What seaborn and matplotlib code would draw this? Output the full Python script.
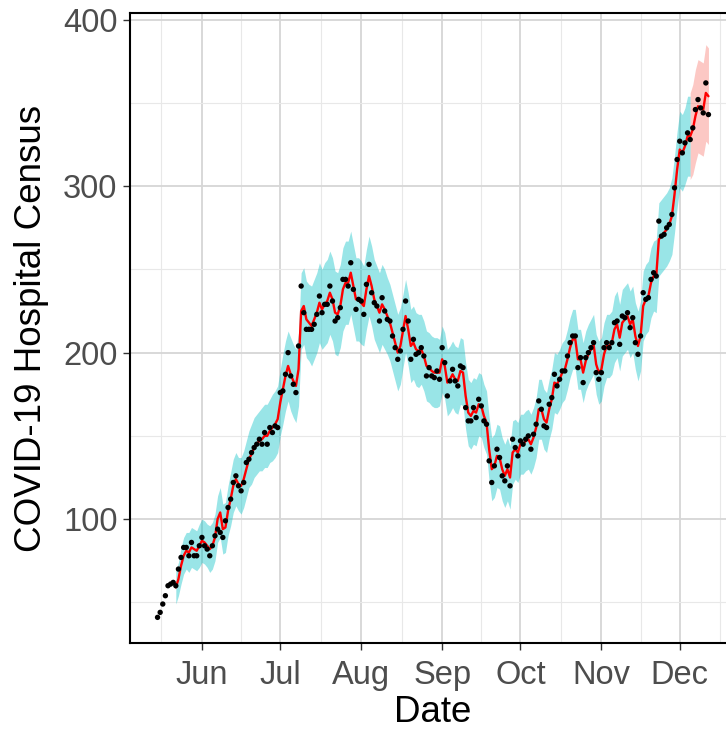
import numpy as np
import pandas as pd
import matplotlib
matplotlib.use("Agg")
import matplotlib.pyplot as plt
import matplotlib.dates as mdates
import seaborn as sns

# ---------------- data ----------------
start_date = "2020-05-15"

observed = [
    41, 44, 49, 54, 60, 61, 62, 60, 70, 77, 83, 83, 78, 86, 78, 78, 84, 89, 84, 82,
    78, 84, 90, 94, 92, 89, 99, 107, 112, 122, 126, 120, 117, 122, 134, 136, 140, 143, 145, 148,
    145, 152, 145, 155, 152, 156, 155, 176, 177, 187, 200, 186, 181, 176, 204, 240, 224, 214, 214, 214,
    217, 223, 234, 224, 229, 229, 240, 231, 219, 221, 227, 244, 244, 240, 254, 238, 226, 232, 231, 223,
    241, 253, 236, 230, 228, 219, 233, 225, 220, 219, 210, 203, 196, 201, 214, 231, 219, 196, 208, 199,
    200, 203, 198, 186, 191, 186, 185, 189, 184, 203, 194, 174, 183, 190, 183, 180, 192, 191, 167, 159,
    159, 167, 161, 172, 168, 159, 157, 135, 122, 132, 142, 137, 126, 123, 132, 120, 148, 143, 138, 147,
    145, 148, 150, 142, 151, 157, 171, 166, 156, 155, 169, 173, 187, 180, 184, 189, 189, 198, 206, 210,
    210, 191, 197, 182, 197, 200, 203, 206, 188, 184, 188, 203, 206, 203, 206, 218, 219, 205, 222, 221,
    224, 215, 221, 206, 199, 210, 236, 232, 233, 244, 248, 246, 279, 270, 271, 275, 277, 283, 299, 316,
    327, 320, 326, 332, 328, 335, 346, 352, 347, 344, 362, 343,
]

fit_offset = 7  # fitted series starts one week after the first observation
fitted = [
    59, 64, 72, 78, 81, 80, 83, 82, 81, 84, 87, 86, 84, 82, 84, 89, 100, 104, 94, 95,
    105, 112, 120, 124, 121, 120, 124, 130, 136, 139, 143, 145, 147, 148, 150, 150, 153, 155, 157, 160,
    170, 178, 186, 192, 187, 183, 180, 190, 225, 228, 220, 218, 216, 220, 224, 230, 226, 229, 231, 236,
    232, 224, 223, 228, 238, 242, 242, 248, 240, 232, 232, 230, 228, 238, 246, 240, 232, 228, 224, 229,
    226, 222, 218, 212, 206, 200, 204, 213, 222, 214, 204, 206, 202, 201, 202, 198, 192, 191, 189, 188,
    188, 188, 196, 192, 182, 184, 187, 184, 183, 189, 188, 174, 164, 162, 165, 164, 169, 168, 162, 158,
    142, 130, 132, 138, 137, 130, 126, 130, 125, 140, 142, 140, 145, 145, 147, 148, 145, 149, 155, 166,
    166, 160, 158, 166, 172, 182, 181, 184, 188, 190, 196, 203, 208, 208, 196, 196, 188, 195, 199, 202,
    205, 193, 188, 190, 199, 204, 204, 206, 214, 217, 209, 218, 220, 222, 217, 220, 210, 204, 210, 228,
    232, 234, 242, 246, 246, 268, 270, 272, 274, 277, 282, 295, 310, 322, 320, 324, 330, 330, 334, 342,
    348, 347, 346, 356, 354,
]

# half-width of the fitted interval (cyan), days 7..204
fit_halfwidth = [
    10, 10, 11, 11, 11, 12, 12, 12, 12, 13,
    13, 13, 13, 14, 14, 14, 14, 15, 15, 15, 15, 16, 16, 16,
    16, 17, 17, 17, 17, 18, 18, 18, 18, 19, 19, 19, 19, 20, 20, 20,
    20, 21, 21, 21, 22, 22, 22, 22, 23, 23, 23, 23, 24, 24,
    24, 24, 24, 25, 25, 25, 25, 25, 25, 25, 25, 25, 25, 25, 25, 25, 25, 25, 24, 24, 24, 24, 24, 24, 24, 24, 24, 23, 23, 23,
    23, 23, 23, 22, 22, 22, 22, 22, 22, 22, 21, 21, 21, 21, 21, 21, 21, 20, 20, 20, 20, 20, 20, 20, 20, 20, 20, 20, 20, 20,
    20, 20, 19, 19, 19, 19, 19, 19, 19, 19, 19, 19, 19, 19, 19, 19, 18, 18, 18, 18, 18, 18, 18, 18, 18, 18, 18, 18, 18, 18,
    18, 18, 18, 18, 18, 18, 18, 18, 18, 18, 18, 18, 18, 18, 18, 18, 18, 18, 19, 19, 19, 19, 19, 19, 20, 20, 20, 20, 20, 20,
    20, 20, 20, 21, 21, 21, 21, 21, 21, 21, 22, 22, 22, 22, 22, 22, 23, 23, 23, 23, 23, 23, 24, 24,
]

# forecast interval (pink), days 204..211
forecast_offset = 204
forecast_halfwidth = [26, 27, 28, 28, 28, 28, 29, 29]

y_ticks = [100, 200, 300, 400]
y_minor = [50, 150, 250, 350]
month_labels = ["Jun", "Jul", "Aug", "Sep", "Oct", "Nov", "Dec"]

# ---------------- tables ----------------
dates = pd.date_range(start_date, periods=len(observed), freq="D")
obs_df = pd.DataFrame({"Date": dates, "Census": observed})

fit_dates = dates[fit_offset:fit_offset + len(fitted)]
fit_df = pd.DataFrame({"Date": fit_dates, "Fit": fitted})

n_cyan = len(fit_halfwidth)
cyan_df = fit_df.iloc[:n_cyan].copy()
cyan_df["lo"] = cyan_df["Fit"] - np.array(fit_halfwidth)
cyan_df["hi"] = cyan_df["Fit"] + np.array(fit_halfwidth)

fi = forecast_offset - fit_offset
pink_df = fit_df.iloc[fi:fi + len(forecast_halfwidth)].copy()
pink_df["lo"] = pink_df["Fit"] - np.array(forecast_halfwidth)
pink_df["hi"] = pink_df["Fit"] + np.array(forecast_halfwidth)

# ---------------- style ----------------
sns.set_theme(style="white")
plt.rcParams["font.family"] = ["Liberation Sans", "DejaVu Sans"]

W, H = 726, 733
fig = plt.figure(figsize=(W / 100, H / 100), dpi=100)
ax = fig.add_axes([130 / W, (H - 643) / H, (736 - 130) / W, (643 - 13) / H])

ax.fill_between(cyan_df["Date"], cyan_df["lo"], cyan_df["hi"],
                color="#00BFC4", alpha=0.4, linewidth=0, zorder=2)
ax.fill_between(pink_df["Date"], pink_df["lo"], pink_df["hi"],
                color="#F8766D", alpha=0.4, linewidth=0, zorder=2)
sns.lineplot(data=fit_df, x="Date", y="Fit", color="red", linewidth=1.7, ax=ax, zorder=3)
sns.scatterplot(data=obs_df, x="Date", y="Census", color="black", s=15,
                edgecolor="none", linewidth=0, ax=ax, zorder=4)

# limits (5% expansion as in ggplot)
d0 = mdates.date2num(dates[0])
d1 = mdates.date2num(dates[-1])
span = d1 - d0
ax.set_xlim(d0 - 0.05 * span, d1 + 0.05 * span)
ax.set_ylim(25.6, 404)

month_starts = pd.date_range("2020-05-01", "2021-01-01", freq="MS")
ms_num = mdates.date2num(month_starts)
major_x = ms_num[1:8]
minor_x = (ms_num[:-1] + ms_num[1:]) / 2
ax.set_xticks(major_x)
ax.set_xticklabels(month_labels)
ax.set_xticks(minor_x, minor=True)
ax.set_yticks(y_ticks)
ax.set_yticks(y_minor, minor=True)

ax.grid(True, which="major", color="#D6D6D6", linewidth=1.3, zorder=0)
ax.grid(True, which="minor", color="#E8E8E8", linewidth=0.8, zorder=0)
ax.set_axisbelow(True)

for sp in ax.spines.values():
    sp.set_visible(True)
    sp.set_color("black")
    sp.set_linewidth(1.5)

ax.tick_params(axis="both", which="major", length=5, width=1.0, color="#333333",
               labelsize=23.5, labelcolor="#4D4D4D", direction="out",
               bottom=True, left=True)
ax.tick_params(axis="x", which="major", pad=7)
ax.tick_params(axis="y", which="major", pad=4)
ax.tick_params(axis="both", which="minor", length=0)

ax.set_xlabel("Date", fontsize=26.5, color="black", labelpad=3)
ax.set_ylabel("COVID-19 Hospital Census", fontsize=26.5, color="black", labelpad=10)

fig.savefig("out.png", dpi=100)
